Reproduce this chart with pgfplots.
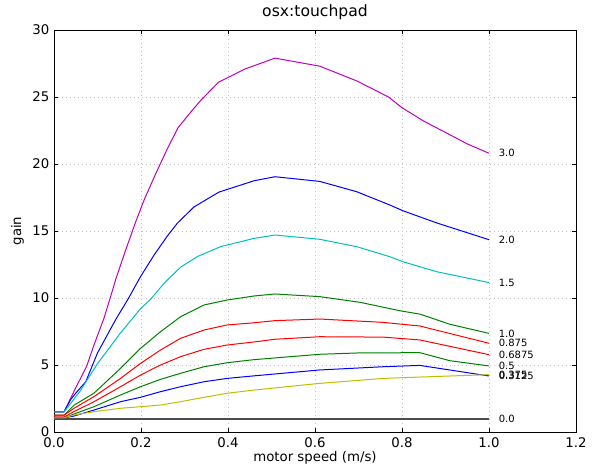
\documentclass[border=0pt]{standalone}
\usepackage{fontspec}
\setmainfont{DejaVu Sans}
\usepackage{pgfplots}
\pgfplotsset{compat=1.18}
\definecolor{mplm}{rgb}{0.75,0,0.75}
\definecolor{mplc}{rgb}{0,0.75,0.75}
\definecolor{mply}{rgb}{0.75,0.75,0}
\definecolor{mplg}{rgb}{0,0.5,0}
\definecolor{mplb}{rgb}{0,0,1}
\definecolor{mplr}{rgb}{1,0,0}
\begin{document}
\begin{tikzpicture}[x=1pt,y=1pt]
\useasboundingbox (0,0) rectangle (600,470);
\begin{axis}[at={(54pt,38pt)}, anchor=south west, scale only axis,
  width=522pt, height=402pt,
  xmin=0, xmax=1.2, ymin=0, ymax=30,
  xtick={0,0.2,0.4,0.6,0.8,1.0,1.2}, ytick={0,5,10,15,20,25,30},
  xticklabels={0.0,0.2,0.4,0.6,0.8,1.0,1.2},
  /pgf/number format/assume math mode=true,
  tick label style={font=\fontsize{13.3}{15}\selectfont},
  xticklabel style={anchor=base, yshift=-15.3pt, inner sep=0pt},
  yticklabel style={anchor=east, xshift=-4.5pt, inner sep=0pt},
  tick align=inside, major tick length=4pt,
  every tick/.style={black, line width=0.8pt},
  axis line style={black, line width=0.9pt},
  grid=major, grid style={gray!50, line width=0.5pt, dash pattern=on 1pt off 3pt},
  title={osx:touchpad},
  title style={font=\fontsize{15.6}{18}\selectfont, at={(axis description cs:0.5,1)}, anchor=base, yshift=7.5pt},
  xlabel={motor speed (m/s)},
  xlabel style={font=\fontsize{13.3}{15}\selectfont, at={(axis description cs:0.5,0)}, anchor=base, yshift=-30pt},
  ylabel={gain},
  ylabel style={font=\fontsize{13.3}{15}\selectfont, at={(axis description cs:-0.0632,0.5)}, anchor=base},
  every axis plot/.append style={line width=1pt, no marks},
  clip=false]
% 0.0
\addplot[black!70, line width=2pt] coordinates {(0,1.0) (1.0,1.0)};
% 3.0
\addplot[mplm] coordinates {(0,1.5) (0.023,1.5) (0.035,2.3) (0.05,3.3) (0.075,4.9) (0.092,6.5) (0.115,8.5) (0.132,10.3) (0.142,11.4) (0.165,13.6) (0.188,15.7) (0.207,17.3) (0.23,19.0) (0.26,21.1) (0.285,22.7) (0.31,23.7) (0.336,24.7) (0.378,26.1) (0.44,27.1) (0.508,27.9) (0.611,27.3) (0.696,26.2) (0.769,25.0) (0.80,24.2) (0.85,23.2) (0.903,22.3) (0.95,21.5) (1.0,20.8)};
% 2.0
\addplot[mplb] coordinates {(0,1.5) (0.023,1.5) (0.038,2.4) (0.05,2.9) (0.073,3.75) (0.1,5.9) (0.142,8.4) (0.169,9.85) (0.199,11.6) (0.23,13.2) (0.26,14.6) (0.284,15.6) (0.322,16.8) (0.379,17.9) (0.46,18.75) (0.508,19.05) (0.611,18.7) (0.696,17.93) (0.772,16.94) (0.803,16.5) (0.88,15.6) (1.0,14.35)};
% 1.5
\addplot[mplc] coordinates {(0,1.5) (0.023,1.5) (0.04,2.2) (0.061,3.1) (0.1,5.1) (0.153,7.4) (0.199,9.2) (0.222,9.9) (0.253,11.1) (0.291,12.3) (0.33,13.1) (0.383,13.83) (0.46,14.45) (0.508,14.7) (0.611,14.38) (0.696,13.83) (0.772,13.08) (0.803,12.7) (0.88,11.96) (1.0,11.15)};
% 1.0
\addplot[mplg] coordinates {(0,1.25) (0.023,1.25) (0.046,2.0) (0.092,2.9) (0.153,4.75) (0.199,6.24) (0.245,7.49) (0.291,8.6) (0.345,9.48) (0.398,9.85) (0.46,10.15) (0.508,10.3) (0.611,10.1) (0.703,9.68) (0.795,9.05) (0.841,8.8) (0.91,8.04) (1.0,7.36)};
% 0.875
\addplot[mplr] coordinates {(0,1.25) (0.023,1.25) (0.046,1.77) (0.092,2.64) (0.153,4.0) (0.199,5.12) (0.245,6.12) (0.291,6.99) (0.345,7.61) (0.398,7.99) (0.46,8.15) (0.508,8.31) (0.611,8.43) (0.757,8.18) (0.841,7.91) (1.0,6.62)};
% 0.6875
\addplot[mplr] coordinates {(0,1.12) (0.023,1.12) (0.046,1.52) (0.092,2.26) (0.153,3.38) (0.199,4.25) (0.245,5.0) (0.291,5.62) (0.345,6.17) (0.398,6.49) (0.46,6.72) (0.508,6.92) (0.611,7.11) (0.757,7.08) (0.841,6.87) (1.0,5.77)};
% 0.5
\addplot[mplg] coordinates {(0,1.05) (0.023,1.05) (0.046,1.34) (0.092,1.89) (0.153,2.76) (0.199,3.38) (0.245,3.93) (0.291,4.38) (0.345,4.87) (0.398,5.17) (0.46,5.4) (0.611,5.8) (0.70,5.9) (0.841,5.92) (0.91,5.32) (1.0,4.93)};
% 0.3125
\addplot[mplb] coordinates {(0,1.05) (0.023,1.05) (0.046,1.19) (0.092,1.64) (0.153,2.26) (0.199,2.59) (0.245,3.01) (0.291,3.38) (0.345,3.75) (0.398,4.0) (0.46,4.19) (0.611,4.63) (0.757,4.87) (0.841,4.97) (1.0,4.18)};
% 0.375
\addplot[mply] coordinates {(0,1.05) (0.023,1.05) (0.046,1.27) (0.092,1.52) (0.153,1.77) (0.199,1.89) (0.245,2.01) (0.291,2.26) (0.345,2.59) (0.398,2.89) (0.46,3.13) (0.611,3.63) (0.757,4.0) (0.841,4.1) (1.0,4.28)};
\begin{scope}[every node/.style={anchor=west, inner sep=0pt, font=\fontsize{10}{12}\selectfont}]
\node at (axis cs:1.022,20.8) {3.0};
\node at (axis cs:1.022,14.35) {2.0};
\node at (axis cs:1.022,11.15) {1.5};
\node at (axis cs:1.022,7.36) {1.0};
\node at (axis cs:1.022,6.62) {0.875};
\node at (axis cs:1.022,5.77) {0.6875};
\node at (axis cs:1.022,4.93) {0.5};
\node at (axis cs:1.022,4.28) {0.375};
\node at (axis cs:1.022,4.18) {0.3125};
\node at (axis cs:1.022,1.0) {0.0};
\end{scope}
\end{axis}
\end{tikzpicture}
\end{document}
